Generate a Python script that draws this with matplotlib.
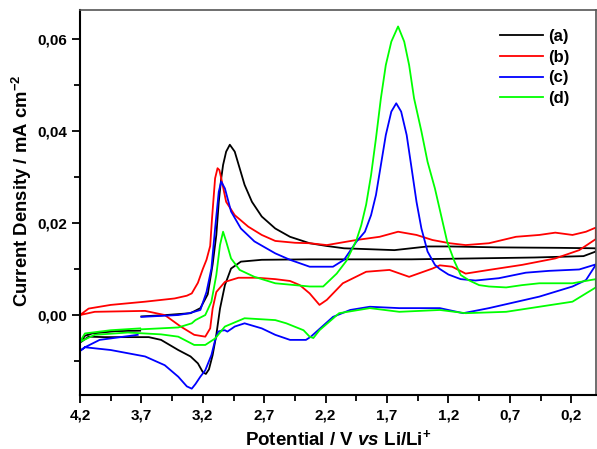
import numpy as np
import matplotlib
matplotlib.use("Agg")
import matplotlib.pyplot as plt
from matplotlib.ticker import FixedLocator, MultipleLocator, FuncFormatter

plt.rcParams['font.family'] = ['Liberation Sans', 'DejaVu Sans']
plt.rcParams['font.weight'] = 'bold'
plt.rcParams['mathtext.fontset'] = 'custom'
plt.rcParams['mathtext.rm'] = 'Liberation Sans:bold'
plt.rcParams['mathtext.bf'] = 'Liberation Sans:bold'
plt.rcParams['mathtext.it'] = 'Liberation Sans:bold:italic'

# cyclic voltammograms, potential (V vs Li/Li+) and current density (mA cm-2)
a_v = [3.70, 3.50, 3.30, 3.22, 3.16, 3.12, 3.09, 3.07, 3.05, 3.035, 3.01, 2.98, 2.94, 2.90,
       2.86, 2.80, 2.72, 2.61, 2.49, 2.33, 2.19, 2.05, 1.64, 1.37, 1.19, 0.80, 0.30, 0.00,
       0.00, 0.10, 0.50, 1.00, 1.50, 2.00, 2.33, 2.72, 2.89, 2.97, 3.02, 3.06, 3.09, 3.12,
       3.15, 3.175, 3.20, 3.24, 3.30, 3.40, 3.54, 3.64, 3.80, 4.00, 4.13, 4.20,
       4.16, 4.10, 3.91, 3.71]
a_j = [-0.0003, 0.0, 0.0004, 0.0015, 0.0045, 0.0110, 0.0174, 0.0246, 0.0297, 0.0326, 0.0355,
       0.0370, 0.0355, 0.0319, 0.0283, 0.0246, 0.0214, 0.0188, 0.0170, 0.0156, 0.0150, 0.0145,
       0.0141, 0.0149, 0.0149, 0.0147, 0.0146, 0.0145,
       0.0138, 0.0128, 0.0125, 0.0123, 0.0121, 0.0121, 0.0121, 0.0120, 0.0116, 0.0101, 0.0065,
       0.0014, -0.0043, -0.0087, -0.0118, -0.0128, -0.0124, -0.0105, -0.0090, -0.0076, -0.0054,
       -0.0048, -0.0048, -0.0048, -0.0047, -0.0060,
       -0.0045, -0.0040, -0.0035, -0.0034]

b_v = [4.20, 4.13, 3.95, 3.67, 3.43, 3.33, 3.29, 3.24, 3.20, 3.17, 3.14, 3.125, 3.10, 3.08,
       3.065, 3.05, 3.01, 2.94, 2.83, 2.72, 2.61, 2.45, 2.33, 2.19, 1.95, 1.76, 1.61, 1.46,
       1.33, 1.19, 1.06, 0.87, 0.65, 0.46, 0.33, 0.19, 0.08, 0.00,
       0.00, 0.135, 0.33, 0.60, 0.87, 1.06, 1.17, 1.27, 1.33, 1.52, 1.68, 1.87, 2.06, 2.19,
       2.25, 2.33, 2.41, 2.49, 2.61, 2.76, 2.91, 3.02, 3.09, 3.12, 3.14, 3.18, 3.27, 3.38,
       3.51, 3.67, 4.08, 4.20]
b_j = [0.0, 0.0014, 0.0022, 0.0029, 0.0036, 0.0042, 0.0047, 0.0070, 0.0100, 0.0120, 0.0150,
       0.0210, 0.0297, 0.0319, 0.0315, 0.0297, 0.0246, 0.0217, 0.0192, 0.0174, 0.0161, 0.0157,
       0.0156, 0.0152, 0.0163, 0.0170, 0.0181, 0.0174, 0.0163, 0.0156, 0.0152, 0.0156, 0.0170,
       0.0174, 0.0179, 0.0174, 0.0181, 0.0190,
       0.0165, 0.0141, 0.0123, 0.0109, 0.0098, 0.0090, 0.0105, 0.0108, 0.0101, 0.0083, 0.0098,
       0.0094, 0.0069, 0.0033, 0.0022, 0.0047, 0.0065, 0.0074, 0.0078, 0.0081, 0.0081, 0.0072,
       0.0050, 0.0014, -0.0029, -0.0047, -0.0043, -0.0025, 0.0, 0.0009, 0.0007, 0.0]

c_v = [3.70, 3.40, 3.31, 3.22, 3.17, 3.13, 3.10, 3.07, 3.05, 3.02, 2.97, 2.89, 2.78, 2.61,
       2.49, 2.33, 2.14, 2.05, 1.95, 1.88, 1.83, 1.79, 1.75, 1.71, 1.665, 1.625, 1.585, 1.54,
       1.50, 1.46, 1.42, 1.37, 1.31, 1.27, 1.20, 1.10, 0.98, 0.79, 0.57, 0.38, 0.135, 0.00,
       0.00, 0.08, 0.19, 0.46, 0.87, 1.08, 1.27, 1.60, 1.84, 2.00, 2.14, 2.32, 2.36, 2.49,
       2.61, 2.72, 2.86, 2.94, 3.00, 3.02, 3.05, 3.075, 3.10, 3.13, 3.18, 3.22, 3.26, 3.29,
       3.33, 3.40, 3.51, 3.67, 3.95, 4.16, 4.20,
       4.16, 4.04, 3.73]
c_j = [-0.0004, 0.0, 0.0004, 0.0011, 0.0050, 0.0101, 0.0188, 0.0268, 0.0290, 0.0275, 0.0225,
       0.0188, 0.0160, 0.0134, 0.0120, 0.0105, 0.0105, 0.0120, 0.0159, 0.0181, 0.0217, 0.0261,
       0.0326, 0.0391, 0.0442, 0.0460, 0.0442, 0.0391, 0.0319, 0.0246, 0.0188, 0.0138, 0.0109,
       0.0100, 0.0088, 0.0078, 0.0075, 0.0080, 0.0092, 0.0096, 0.0099, 0.0110,
       0.0109, 0.0076, 0.0062, 0.0040, 0.0015, 0.0004, 0.0015, 0.0015, 0.0018, 0.0011,
       -0.0004, -0.0047, -0.0054, -0.0054, -0.0043, -0.0029, -0.0018, -0.0025, -0.0036,
       -0.0033, -0.0034, -0.0036, -0.0055, -0.0087, -0.0120, -0.0134, -0.0150, -0.0160,
       -0.0155, -0.0134, -0.0109, -0.0090, -0.0076, -0.0070, -0.0078,
       -0.0070, -0.0054, -0.0043]

d_v = [3.70, 3.40, 3.29, 3.26, 3.18, 3.13, 3.09, 3.06, 3.035, 3.01, 2.97, 2.90, 2.78, 2.61,
       2.49, 2.33, 2.22, 2.11, 2.03, 1.95, 1.91, 1.87, 1.83, 1.79, 1.75, 1.71, 1.665, 1.61,
       1.56, 1.52, 1.48, 1.42, 1.37, 1.31, 1.26, 1.21, 1.15, 1.10, 1.03, 0.95, 0.87, 0.73,
       0.60, 0.46, 0.19, 0.00,
       0.00, 0.08, 0.19, 0.46, 0.73, 1.06, 1.27, 1.60, 1.84, 2.09, 2.25, 2.30, 2.33, 2.38,
       2.52, 2.61, 2.86, 3.02, 3.10, 3.18, 3.27, 3.40, 3.54, 3.81, 4.08, 4.20,
       4.16, 3.95, 3.71]
d_j = [-0.0031, -0.0027, -0.0018, -0.0011, 0.0, 0.0029, 0.0087, 0.0152, 0.0181, 0.0160,
       0.0123, 0.0098, 0.0083, 0.0069, 0.0066, 0.0062, 0.0062, 0.0090, 0.0118, 0.0162,
       0.0195, 0.0240, 0.0304, 0.0384, 0.0471, 0.0543, 0.0594, 0.0627, 0.0594, 0.0543, 0.0471,
       0.0399, 0.0333, 0.0275, 0.0217, 0.0159, 0.0116, 0.0087, 0.0075, 0.0065, 0.0062, 0.0060,
       0.0065, 0.0069, 0.0069, 0.0078,
       0.0060, 0.0047, 0.0029, 0.0018, 0.0007, 0.0004, 0.0011, 0.0007, 0.0015, 0.0004,
       -0.0033, -0.0050, -0.0047, -0.0033, -0.0018, -0.0011, -0.0007, -0.0025, -0.0051,
       -0.0065, -0.0065, -0.0047, -0.0042, -0.0038, -0.0043, -0.0058,
       -0.0040, -0.0033, -0.0029]

labels = ['(a)', '(b)', '(c)', '(d)']
colors = ['#000000', '#ff0000', '#0000ff', '#00ff00']
x_ticks = [4.2, 3.7, 3.2, 2.7, 2.2, 1.7, 1.2, 0.7, 0.2]
y_ticks = [0.00, 0.02, 0.04, 0.06]

fig = plt.figure(figsize=(5.97, 4.49), dpi=100)
ax = fig.add_axes([0.134, 0.120, 0.864, 0.858])

for v, j, lab, col in zip([a_v, b_v, c_v, d_v], [a_j, b_j, c_j, d_j], labels, colors):
    ax.plot(v, j, color=col, lw=1.3, label=lab, solid_joinstyle='round')

ax.set_xlim(4.2, 0.0)
ax.set_ylim(-0.0174, 0.0663)

ax.xaxis.set_major_locator(FixedLocator(x_ticks))
ax.xaxis.set_minor_locator(FixedLocator([t - 0.25 for t in x_ticks]))
ax.yaxis.set_major_locator(FixedLocator(y_ticks))
ax.yaxis.set_minor_locator(MultipleLocator(0.01))
ax.xaxis.set_major_formatter(FuncFormatter(lambda v, p: f'{v:.1f}'.replace('.', ',')))
ax.yaxis.set_major_formatter(FuncFormatter(lambda v, p: f'{v:.2f}'.replace('.', ',')))
ax.tick_params(which='both', direction='out', top=False, right=False, width=1.3,
               labelsize=11)
ax.tick_params(which='major', length=6)
ax.tick_params(which='minor', length=4)

for s in ['left', 'bottom']:
    ax.spines[s].set_linewidth(1.5)
for s in ['top', 'right']:
    ax.spines[s].set_linewidth(1.2)
    ax.spines[s].set_color('#555555')

ax.set_xlabel(r'Potential / V $\mathit{vs}$ Li/Li$^{+}$', fontsize=13.5, fontweight='bold',
              labelpad=5)
ax.set_ylabel(r'Current Density / mA cm$^{-2}$', fontsize=13.3, fontweight='bold')
ax.yaxis.set_label_coords(-0.09, 0.53)

ax.legend(loc='upper right', bbox_to_anchor=(0.978, 0.99), frameon=False, fontsize=12,
          handlelength=2.6, handletextpad=0.3, labelspacing=0.35)

fig.savefig('out.png', dpi=100)
